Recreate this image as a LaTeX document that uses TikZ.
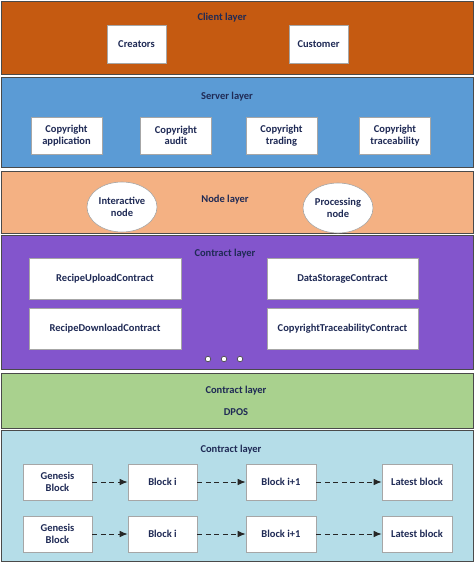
\documentclass[tikz,border=0pt]{standalone}
\usepackage{fontspec}
\setmainfont{Carlito}
\usetikzlibrary{shapes.geometric,arrows.meta}
\definecolor{txt}{HTML}{1F2A55}
\definecolor{clientc}{HTML}{C55A11}
\definecolor{serverc}{HTML}{5B9BD5}
\definecolor{nodec}{HTML}{F4B183}
\definecolor{contractc}{HTML}{8355CC}
\definecolor{greenc}{HTML}{A9D18E}
\definecolor{bluec}{HTML}{B5DDE8}
\definecolor{bandline}{HTML}{4A4A4A}
\definecolor{boxline}{HTML}{A6A6A6}
\begin{document}
\begin{tikzpicture}[x=1pt,y=-1pt,
  band/.style={draw=bandline,line width=0.9pt},
  title/.style={text=txt,font=\fontsize{10.5}{12}\selectfont\bfseries,inner sep=0pt},
  wbox/.style={draw=boxline,fill=white,line width=0.6pt,text=txt,
    font=\fontsize{10.5}{11.5}\selectfont\bfseries,align=center,inner sep=1pt},
  wellipse/.style={ellipse,draw=boxline,fill=white,line width=0.6pt,text=txt,
    font=\fontsize{10.5}{11.5}\selectfont\bfseries,align=center,inner sep=0pt},
  flow/.style={draw=black!85,line width=0.9pt,dash pattern=on 5pt off 3.5pt,
    -{Latex[length=8pt,width=6.5pt]}},
  dotc/.style={circle,draw=bandline,fill=white,line width=0.7pt,minimum size=5.5pt,inner sep=0pt}
]
\useasboundingbox (0,0) rectangle (474,562);
% bands
\draw[band,fill=clientc] (1,1) rectangle (473,74);
\draw[band,fill=serverc] (1,77) rectangle (473,167);
\draw[band,fill=nodec] (1,171) rectangle (473,233);
\draw[band,fill=contractc] (1,235) rectangle (473,369);
\draw[band,fill=greenc] (1,373) rectangle (473,428);
\draw[band,fill=bluec] (1,430) rectangle (473,561);
% titles
\node[title] (tclient) at (222,18) {Client layer};
\node[title] (tserver) at (227,97) {Server layer};
\node[title] (tnode) at (225,200) {Node layer};
\node[title] (tcontract) at (225,254) {Contract layer};
\node[title] (tgreen) at (236,391) {Contract layer};
\node[title] (tdpos) at (236,412) {DPOS};
\node[title] (tblue) at (231,450) {Contract layer};
% client
\node[wbox,minimum width=59pt,minimum height=38pt] (creators) at (136.5,44) {Creators};
\node[wbox,minimum width=59pt,minimum height=38pt] (customer) at (318.5,44) {Customer};
% server
\node[wbox,minimum width=71pt,minimum height=37pt] (capp) at (66.5,135.5) {Copyright\\application};
\node[wbox,minimum width=71pt,minimum height=37pt] (caudit) at (176,135.5) {Copyright\\audit};
\node[wbox,minimum width=71pt,minimum height=37pt] (ctrade) at (281.5,135.5) {Copyright\\trading};
\node[wbox,minimum width=71pt,minimum height=37pt] (ctrace) at (395,135.5) {Copyright\\traceability};
% node layer
\node[wellipse,minimum width=70pt,minimum height=50pt] (inode) at (122,207) {Interactive\\node};
\node[wellipse,minimum width=70pt,minimum height=50pt] (pnode) at (338,208) {Processing\\node};
% contract layer
\node[wbox,minimum width=152pt,minimum height=41pt] (rup) at (105,278.5) {RecipeUploadContract};
\node[wbox,minimum width=152pt,minimum height=41pt] (rdown) at (105,328.5) {RecipeDownloadContract};
\node[wbox,minimum width=151pt,minimum height=41pt] (dstore) at (342.5,278.5) {DataStorageContract};
\node[wbox,minimum width=151pt,minimum height=41pt] (ctc) at (342.5,328.5) {CopyrightTraceabilityContract};
\node[dotc] (d1) at (208,359) {};
\node[dotc] (d2) at (224,359) {};
\node[dotc] (d3) at (240,359) {};
% blocks
\foreach \r/\y in {a/482,b/534}{
  \node[wbox,minimum width=69pt,minimum height=36pt] (gen\r) at (57.5,\y) {Genesis\\Block};
  \node[wbox,minimum width=69pt,minimum height=36pt] (bi\r) at (162.5,\y) {Block i};
  \node[wbox,minimum width=70pt,minimum height=36pt] (bj\r) at (281,\y) {Block i+1};
  \node[wbox,minimum width=70pt,minimum height=36pt] (lat\r) at (417,\y) {Latest block};
  \draw[flow] (gen\r) -- (bi\r);
  \draw[flow] (bi\r) -- (bj\r);
  \draw[flow] (bj\r) -- (lat\r);
}
\end{tikzpicture}
\end{document}
